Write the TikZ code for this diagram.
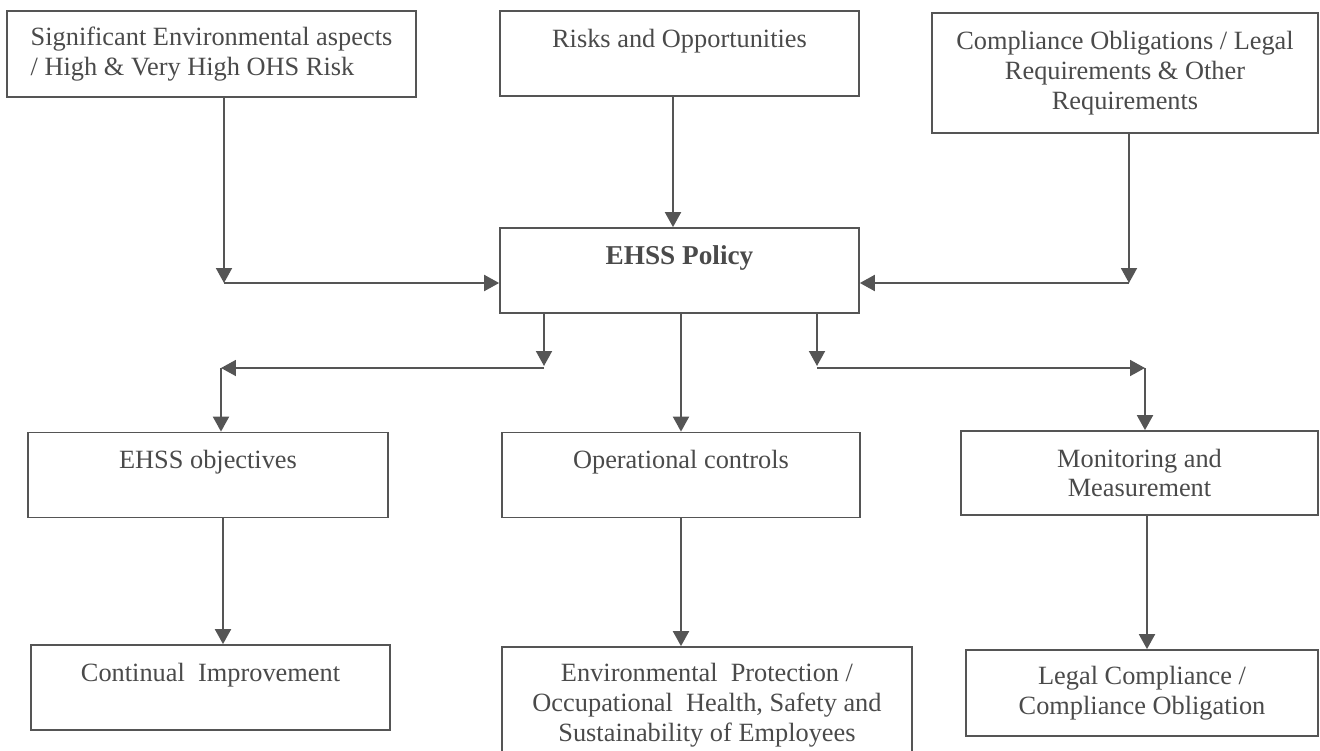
\documentclass[tikz,border=0pt]{standalone}
\usepackage{fontspec}
\setmainfont{Liberation Serif}
\usetikzlibrary{arrows.meta, positioning}
\definecolor{inkgray}{HTML}{555555}
\definecolor{textgray}{HTML}{4A4A4A}

\begin{document}
\begin{tikzpicture}[
      x=0.02cm, y=-0.02cm,
      every node/.style={font=\fontsize{15pt}{17pt}\selectfont, text=textgray},
      box/.style={draw=inkgray, line width=1pt, inner sep=0pt, align=center},
      topline/.style={box, text height=0.72cm, text depth=0.98cm},
      arr/.style={-{Triangle[width=0.32cm, length=0.3cm]}, line width=1.1pt, inkgray},
    ]
      \useasboundingbox (0,0) rectangle (1320,751);
      \clip (0,0) rectangle (1320,751);

      % top row
      \node[box, align=left, minimum width=8.18cm, minimum height=1.72cm] (sigasp) at (211.5,54)
        {Significant Environmental aspects\\/ High \& Very High OHS Risk};
      \node[topline, minimum width=7.18cm] (risks) at (679.5,53.5) {Risks and Opportunities};
      \node[box, minimum width=7.72cm, minimum height=2.4cm] (compob) at (1125,73)
        {Compliance Obligations / Legal\\Requirements \& Other\\Requirements};

      \node[topline, minimum width=7.18cm, font=\fontsize{15.5pt}{17pt}\selectfont\bfseries] (policy) at (679.5,270.5) {EHSS Policy};

      % middle row
      \node[topline, minimum width=7.2cm] (objectives) at (208,475) {EHSS objectives};
      \node[topline, minimum width=7.16cm] (opctrl) at (681,475) {Operational controls};
      \node[box, minimum width=7.14cm, minimum height=1.68cm] (monitor) at (1139.5,473)
        {Monitoring and\\Measurement};

      % bottom row
      \node[topline, minimum width=7.18cm] (contimp) at (210.5,687.5) {Continual\ \ Improvement};
      \node[box, minimum width=8.2cm, minimum height=2.32cm] (envprot) at (707,705)
        {Environmental\ \ Protection /\\Occupational\ \ Health, Safety and\\Sustainability of Employees};
      \node[box, minimum width=7.04cm, minimum height=1.72cm] (legalcomp) at (1142,693)
        {Legal Compliance /\\Compliance Obligation};

      \coordinate (sigjoin) at (224,283);
      \coordinate (riskcol) at (673,160);
      \coordinate (compjoin) at (1129,283);
      \coordinate (leftsplit) at (544,366);
      \coordinate (leftturn) at (221,368);
      \coordinate (rightsplit) at (817,366);
      \coordinate (rightturn) at (1145,368);
      \coordinate (leftcol) at (223,600);
      \coordinate (rightcol) at (1147,600);

      % into the policy
      \draw[arr] (sigasp.south -| sigjoin) -- (sigjoin);
      \draw[arr] (sigjoin) -- (sigjoin -| policy.west);
      \draw[arr] (risks.south -| riskcol) -- (policy.north -| riskcol);
      \draw[arr] (compob.south -| compjoin) -- (compjoin);
      \draw[arr] (compjoin) -- (compjoin -| policy.east);

      % out of the policy
      \draw[arr] (policy.south -| leftsplit) -- (leftsplit);
      \draw[arr] (leftsplit |- leftturn) -- (leftturn);
      \draw[arr] (leftturn) -- (leftturn |- objectives.north);
      \draw[arr] (opctrl.north |- policy.south) -- (opctrl.north);
      \draw[arr] (policy.south -| rightsplit) -- (rightsplit);
      \draw[arr] (rightsplit |- rightturn) -- (rightturn);
      \draw[arr] (rightturn) -- (rightturn |- monitor.north);

      \draw[arr] (objectives.south -| leftcol) -- (contimp.north -| leftcol);
      \draw[arr] (opctrl.south) -- (opctrl.south |- envprot.north);
      \draw[arr] (monitor.south -| rightcol) -- (legalcomp.north -| rightcol);
    \end{tikzpicture}
\end{document}
